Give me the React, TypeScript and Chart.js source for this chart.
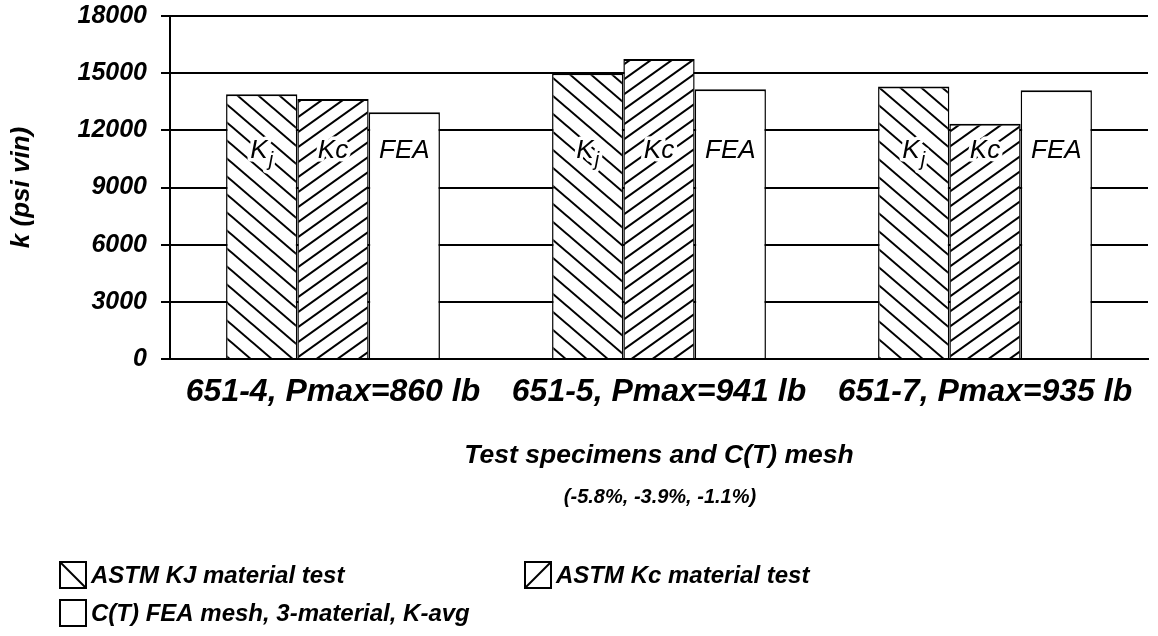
import React, { useEffect, useRef } from "react";
import { Chart, registerables } from "chart.js";

Chart.register(...registerables);

// ---------------- data ----------------
const categories = ["651-4, Pmax=860 lb", "651-5, Pmax=941 lb", "651-7, Pmax=935 lb"];
const kjValues = [13900, 15000, 14300];
const kcValues = [13650, 15750, 12350];
const feaValues = [12950, 14150, 14100];
const yTickValues = [0, 3000, 6000, 9000, 12000, 15000, 18000];
const seriesNames = [
  "ASTM KJ material test",
  "ASTM Kc material test",
  "C(T) FEA mesh, 3-material, K-avg",
];
const barLabelMain = ["K", "Kc", "FEA"];
const barLabelSub = ["j", "", ""];
const xTitle = "Test specimens and C(T) mesh";
const xSubtitle = "(-5.8%, -3.9%, -1.1%)";
const yTitle = "k (psi vin)";
const LABEL_LEVEL = 10950; // value level at which the in-bar labels sit

const FAMILY = "'Liberation Sans', Arial, Helvetica, sans-serif";

function makeHatch(ctx: CanvasRenderingContext2D, w: number, h: number, dir: "back" | "fwd") {
  const c = document.createElement("canvas");
  c.width = w;
  c.height = h;
  const g = c.getContext("2d")!;
  g.fillStyle = "#ffffff";
  g.fillRect(0, 0, w, h);
  g.strokeStyle = "#000000";
  g.lineWidth = 2;
  for (const k of [-1, 0, 1]) {
    g.beginPath();
    if (dir === "back") {
      g.moveTo(k * w - w, -h);
      g.lineTo(k * w + 2 * w, 2 * h);
    } else {
      g.moveTo(k * w - w, 2 * h);
      g.lineTo(k * w + 2 * w, -h);
    }
    g.stroke();
  }
  return ctx.createPattern(c, "repeat") as CanvasPattern;
}

const barLabelPlugin = {
  id: "barLabels",
  afterDatasetsDraw(chart: any) {
    const ctx: CanvasRenderingContext2D = chart.ctx;
    const yScale = chart.scales.y;
    const y = yScale.getPixelForValue(LABEL_LEVEL);
    ctx.save();
    ctx.textBaseline = "middle";
    ctx.textAlign = "left";
    ctx.lineJoin = "round";
    chart.data.datasets.forEach((_ds: any, di: number) => {
      const meta = chart.getDatasetMeta(di);
      meta.data.forEach((el: any) => {
        const main = barLabelMain[di];
        const sub = barLabelSub[di];
        const mainFont = `italic 26px ${FAMILY}`;
        const subFont = `italic 20px ${FAMILY}`;
        ctx.font = mainFont;
        const mw = ctx.measureText(main).width;
        ctx.font = subFont;
        const sw = sub ? ctx.measureText(sub).width + 1 : 0;
        const x0 = el.x - (mw + sw) / 2;
        ctx.strokeStyle = "#ffffff";
        ctx.lineWidth = 7;
        ctx.fillStyle = "#000000";
        ctx.font = mainFont;
        ctx.strokeText(main, x0, y);
        if (sub) {
          ctx.font = subFont;
          ctx.strokeText(sub, x0 + mw + 1, y + 10);
        }
        ctx.font = mainFont;
        ctx.fillText(main, x0, y);
        if (sub) {
          ctx.font = subFont;
          ctx.fillText(sub, x0 + mw + 1, y + 10);
        }
      });
    });
    ctx.restore();
  },
};

const extrasPlugin = {
  id: "extras",
  afterDraw(chart: any) {
    const ctx: CanvasRenderingContext2D = chart.ctx;
    const xs = chart.scales.x;
    ctx.save();
    // subtitle under the x-axis title
    ctx.fillStyle = "#000";
    ctx.textAlign = "center";
    ctx.textBaseline = "middle";
    ctx.font = `italic bold 20px ${FAMILY}`;
    ctx.fillText(xSubtitle, (xs.left + xs.right) / 2 + 1, 497);

    // legend
    const items = [
      { x: 60, y: 562, kind: "back" },
      { x: 525, y: 562, kind: "fwd" },
      { x: 60, y: 600, kind: "none" },
    ];
    const bs = 26;
    items.forEach((it, i) => {
      ctx.fillStyle = "#fff";
      ctx.fillRect(it.x, it.y, bs, bs);
      ctx.strokeStyle = "#000";
      ctx.lineWidth = 2;
      ctx.strokeRect(it.x, it.y, bs, bs);
      if (it.kind !== "none") {
        ctx.beginPath();
        if (it.kind === "back") {
          ctx.moveTo(it.x, it.y);
          ctx.lineTo(it.x + bs, it.y + bs);
        } else {
          ctx.moveTo(it.x, it.y + bs);
          ctx.lineTo(it.x + bs, it.y);
        }
        ctx.lineWidth = 2;
        ctx.stroke();
      }
      ctx.fillStyle = "#000";
      ctx.textAlign = "left";
      ctx.textBaseline = "middle";
      ctx.font = `italic bold 24px ${FAMILY}`;
      ctx.fillText(seriesNames[i], it.x + bs + 5, it.y + bs / 2 + 1);
    });
    ctx.restore();
  },
};

export default function App() {
  const ref = useRef<HTMLCanvasElement | null>(null);

  useEffect(() => {
    const canvas = ref.current!;
    const ctx = canvas.getContext("2d")!;
    const kjPattern = makeHatch(ctx, 21, 18, "back");
    const kcPattern = makeHatch(ctx, 21, 15, "fwd");

    const barBorder = { top: 2, left: 1.5, right: 1.5, bottom: 0 } as any;

    const chart = new Chart(canvas, {
      type: "bar",
      data: {
        labels: categories,
        datasets: [
          {
            label: seriesNames[0],
            data: kjValues,
            backgroundColor: kjPattern as any,
            borderColor: "#000",
            borderWidth: barBorder,
            borderSkipped: false,
            categoryPercentage: 0.656,
            barPercentage: 1,
          },
          {
            label: seriesNames[1],
            data: kcValues,
            backgroundColor: kcPattern as any,
            borderColor: "#000",
            borderWidth: barBorder,
            borderSkipped: false,
            categoryPercentage: 0.656,
            barPercentage: 1,
          },
          {
            label: seriesNames[2],
            data: feaValues,
            backgroundColor: "#ffffff",
            borderColor: "#000",
            borderWidth: barBorder,
            borderSkipped: false,
            categoryPercentage: 0.656,
            barPercentage: 1,
          },
        ],
      },
      options: {
        responsive: false,
        animation: false,
        events: [],
        layout: { padding: { top: 16, right: 10, bottom: 164, left: 0 } },
        plugins: {
          legend: { display: false },
          tooltip: { enabled: false },
          title: { display: false },
        },
        scales: {
          x: {
            grid: { display: false, drawTicks: false },
            border: { display: true, color: "#000", width: 2 },
            ticks: {
              color: "#000",
              font: { family: FAMILY, size: 32, style: "italic", weight: "bold" },
              padding: 14,
              maxRotation: 0,
              autoSkip: false,
            },
            title: {
              display: true,
              text: xTitle,
              color: "#000",
              font: { family: FAMILY, size: 26.5, style: "italic", weight: "bold" },
              padding: { top: 0, bottom: 0 },
            },
            afterFit: (s: any) => {
              s.height = 113;
              s.paddingLeft = 0;
              s.paddingRight = 0;
            },
          },
          y: {
            min: 0,
            max: 18000,
            afterBuildTicks: (s: any) => {
              s.ticks = yTickValues.map((v) => ({ value: v }));
            },
            grid: { color: "#000", lineWidth: 2, tickLength: 9 },
            border: { display: true, color: "#000", width: 2 },
            ticks: {
              color: "#000",
              font: { family: FAMILY, size: 25, style: "italic", weight: "bold" },
              padding: 14,
              callback: (v: any) => String(v),
            },
            title: {
              display: true,
              text: yTitle,
              color: "#000",
              font: { family: FAMILY, size: 26, style: "italic", weight: "bold" },
              padding: { top: 6, bottom: 0 },
            },
            afterFit: (s: any) => {
              s.width = 170;
              s.paddingTop = 0;
              s.paddingBottom = 0;
            },
          },
        },
      },
      plugins: [barLabelPlugin, extrasPlugin],
    });

    return () => {
      chart.destroy();
    };
  }, []);

  return (
    <div style={{ position: "absolute", left: 0, top: 0, width: 1158, height: 636, background: "#fff" }}>
      <canvas ref={ref} width={1158} height={636} style={{ display: "block", width: 1158, height: 636 }} />
    </div>
  );
}
